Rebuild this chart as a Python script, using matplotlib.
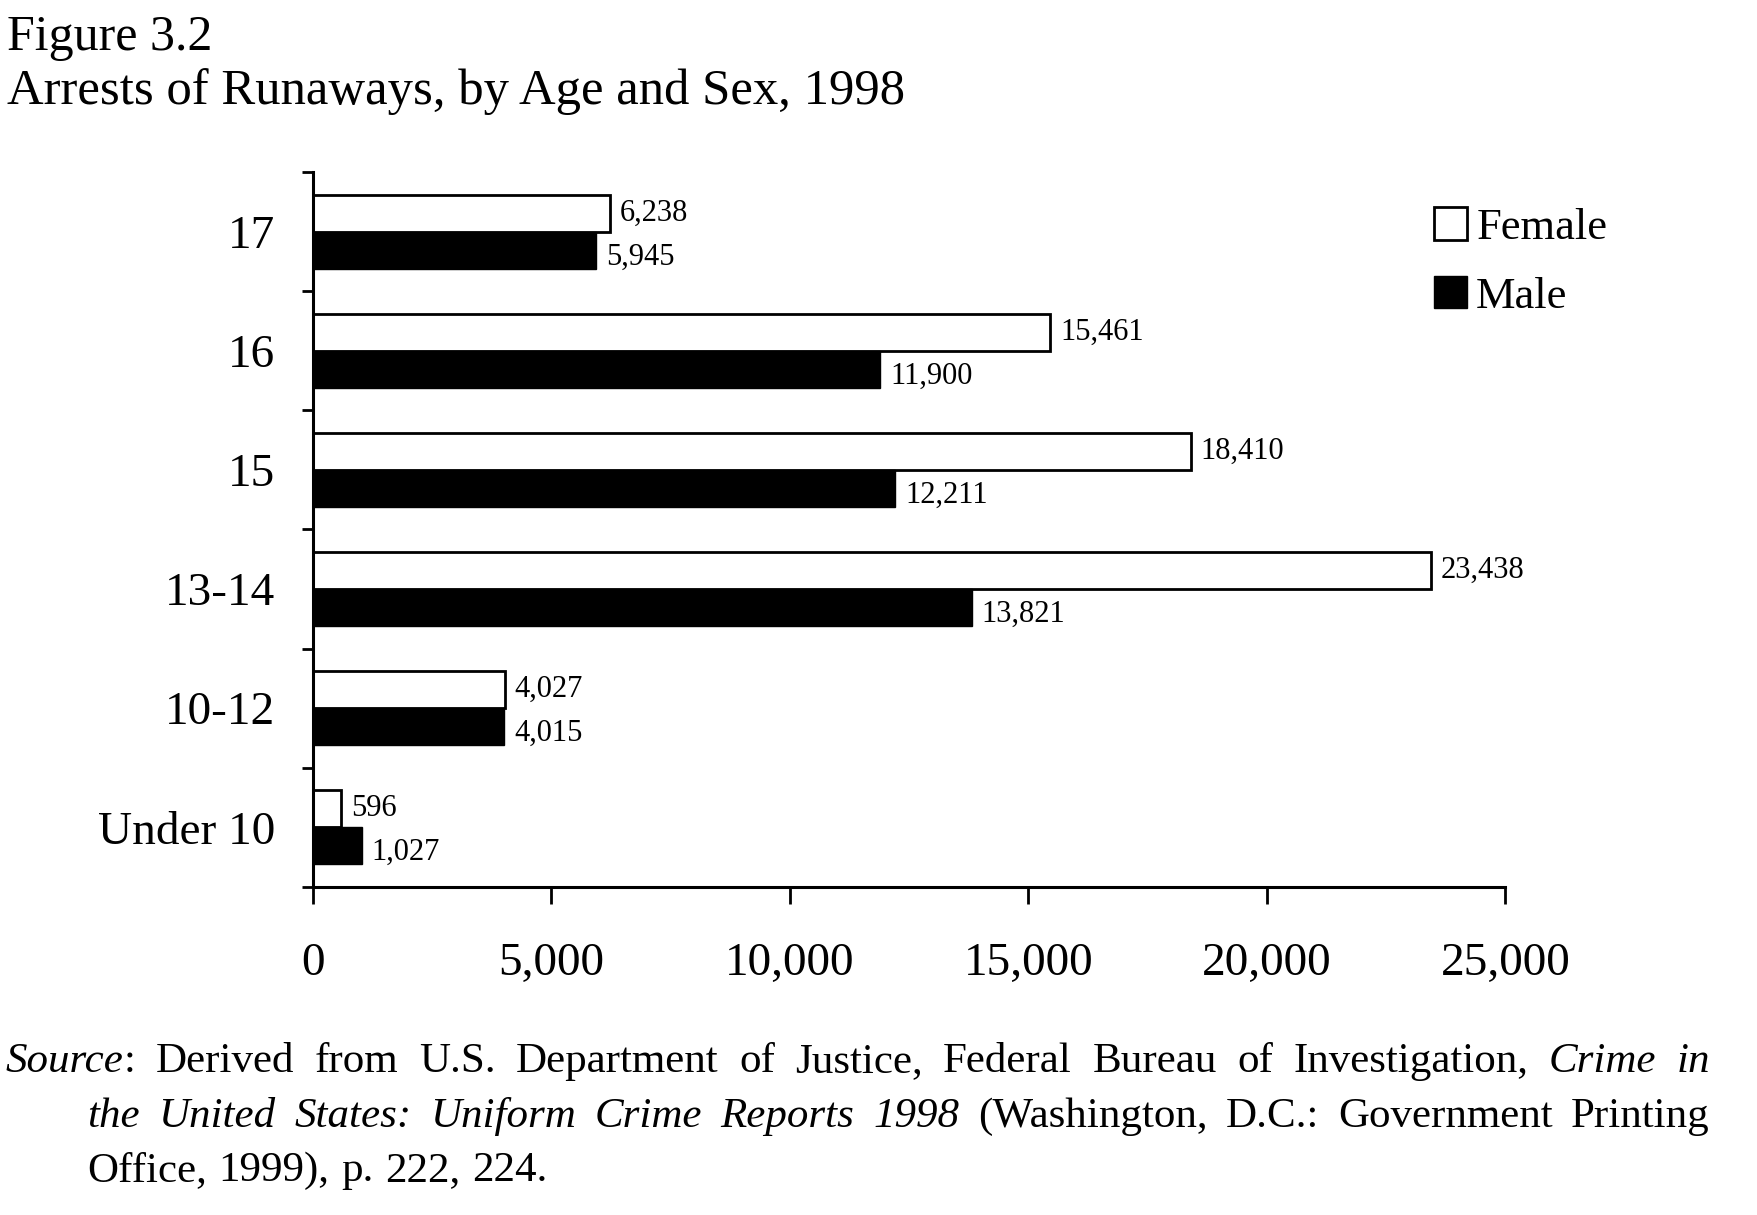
import matplotlib
matplotlib.use('Agg')
import matplotlib.pyplot as plt
import numpy as np
from matplotlib.patches import Patch

plt.rcParams['font.family'] = ['Liberation Serif', 'DejaVu Serif']

# data
ages = ['Under 10', '10-12', '13-14', '15', '16', '17']
female = [596, 4027, 23438, 18410, 15461, 6238]
male = [1027, 4015, 13821, 12211, 11900, 5945]
xticks = [0, 5000, 10000, 15000, 20000, 25000]

W, H = 1757, 1215
fig = plt.figure(figsize=(W / 100, H / 100), dpi=100)
ax = fig.add_axes([0.178, 0.270, 0.6788, 0.5884])

y = np.arange(len(ages))
h = 0.31
ax.barh(y + h / 2, female, height=h, color='white', edgecolor='black', linewidth=2)
ax.barh(y - h / 2, male, height=h, color='black', edgecolor='black', linewidth=1)

for i in range(len(ages)):
	ax.annotate(f'{female[i]:,}', xy=(female[i], y[i] + h / 2), xytext=(7, 0),
		textcoords='offset points', va='center', ha='left', fontsize=22)
	ax.annotate(f'{male[i]:,}', xy=(male[i], y[i] - h / 2), xytext=(7, -5),
		textcoords='offset points', va='center', ha='left', fontsize=22)

ax.set_xlim(0, 25000)
ax.set_ylim(-0.5, len(ages) - 0.5)

ax.set_xticks(xticks)
ax.set_xticklabels([f'{v:,}' for v in xticks], fontsize=34)
ax.tick_params(axis='x', direction='out', length=12, width=2, pad=28)

ax.set_yticks(y)
ax.set_yticklabels(ages, fontsize=34)
ax.set_yticks(np.arange(-0.5, len(ages)), minor=True)
ax.tick_params(axis='y', which='major', length=0, pad=27)
ax.tick_params(axis='y', which='minor', direction='out', length=8, width=2)

for s in ['top', 'right']:
	ax.spines[s].set_visible(False)
for s in ['left', 'bottom']:
	ax.spines[s].set_linewidth(2.2)

handles = [Patch(facecolor='white', edgecolor='black', linewidth=2, label='Female'),
	Patch(facecolor='black', edgecolor='black', label='Male')]
fig.legend(handles=handles, loc='upper left', bbox_to_anchor=(1434 / W, 1 - 207 / H),
	frameon=False, fontsize=32, handlelength=0.75, handleheight=0.75,
	handletextpad=0.2, labelspacing=0.63, borderpad=0, borderaxespad=0)

fig.text(0.004, 1 - 50 / H, 'Figure 3.2', fontsize=36, va='baseline', ha='left')
fig.text(0.004, 1 - 104 / H, 'Arrests of Runaways, by Age and Sex, 1998', fontsize=36.5,
	va='baseline', ha='left')

# source note: word by word so the first two lines can be justified
fs = 31
def words(s, style='normal'):
	return [(w, style, True) for w in s.split()]

src_lines = [
	(6, 1072, 1710, [('Source', 'italic', True), (':', 'normal', False)]
		+ words('Derived from U.S. Department of Justice, Federal Bureau of Investigation,')
		+ words('Crime in', 'italic')),
	(87, 1127, 1710, words('the United States: Uniform Crime Reports 1998', 'italic')
		+ words('(Washington, D.C.: Government Printing')),
	(87, 1181, None, words('Office, 1999), p. 222, 224.')),
]

renderer = fig.canvas.get_renderer()
for x0, base, right, toks in src_lines:
	objs = []
	for txt, style, sep in toks:
		t = fig.text(0, 1 - base / H, txt, fontsize=fs, style=style, va='baseline', ha='left')
		objs.append((t, t.get_window_extent(renderer).width, sep))
	nsep = sum(1 for o in objs[1:] if o[2])
	if right is None:
		gap = 0.27 * fs * 100 / 72
	else:
		gap = (right - x0 - sum(o[1] for o in objs)) / nsep
	x = x0
	for k, (t, wd, sep) in enumerate(objs):
		if k > 0 and sep:
			x += gap
		t.set_x(x / W)
		x += wd

fig.savefig('out.png', dpi=100)
